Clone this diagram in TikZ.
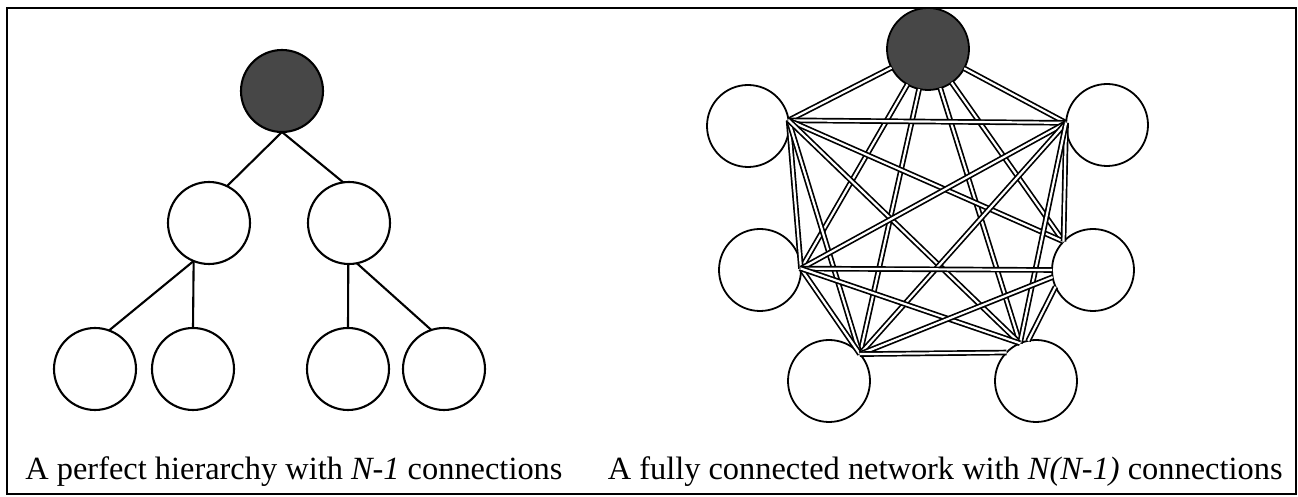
\documentclass[tikz,border=0pt]{standalone}
\usepackage{fontspec}
\setmainfont{Liberation Serif}
\usetikzlibrary{positioning}

\begin{document}
\begin{tikzpicture}[
	x={(0.5pt,0pt)},
	y={(0pt,-0.5pt)},
	font=\fontsize{16.2}{19}\selectfont,
	member/.style={draw, circle, fill=white, line width=1.05pt, minimum size=41pt, inner sep=0pt, outer sep=0pt},
	leader/.style={member, fill=black!72},
	netmember/.style={member, line width=0.9pt},
	netleader/.style={netmember, fill=black!72},
	tie/.style={line width=1.05pt},
	link/.style={draw=black, line width=0.85pt, double=white, double distance=1.1pt},
	caption/.style={inner sep=0pt}
	]
	
	\useasboundingbox (0,0) rectangle (1298,497);
	
	% --------------------------------------------------
	% Frame
	% --------------------------------------------------
	\draw[line width=1.2pt] (7,8) rectangle (1296,494);
	
	% ==================================================
	% Left: perfect hierarchy
	% ==================================================
	\node[leader] (root) at (282,91) {};
	
	\node[member] (c1) at (209,223) {};
	\node[member] (c2) at (349,223) {};
	
	\node[member] (l1) at (95,369) {};
	\node[member] (l2) at (193,369) {};
	\node[member] (l3) at (348,369) {};
	\node[member] (l4) at (444,369) {};
	
	\draw[tie] (root.south) -- (c1.64);
	\draw[tie] (root.south) -- (c2.98);
	\draw[tie] (c1.248) -- (l1.70);
	\draw[tie] (c1.248) -- (l2.90);
	\draw[tie] (c2.269) -- (l3.90);
	\draw[tie] (c2.281) -- (l4.108);
	
	\node[caption, anchor=base west] (capL) at (25,480)
	{A perfect hierarchy with \textit{N-1} connections};
	
	% ==================================================
	% Right: fully connected network
	% ==================================================
	\node[netleader] (T)  at (928,49) {};
	\node[netmember] (UL) at (748,126) {};
	\node[netmember] (UR) at (1107,125) {};
	\node[netmember] (ML) at (760,270) {};
	\node[netmember] (MR) at (1093,270) {};
	\node[netmember] (BL) at (829,381) {};
	\node[netmember] (BR) at (1036,381) {};
	
	% contact points where the links meet
	\coordinate (ULh) at (UL.8);
	\coordinate (URh) at (UR.177);
	\coordinate (MLh) at (ML.2);
	\coordinate (MRa) at (MR.136);
	\coordinate (MRb) at (MR.180);
	\coordinate (MRc) at (MR.190);
	\coordinate (MRd) at (MR.204);
	\coordinate (BLh) at (BL.41);
	\coordinate (BRa) at (BR.113);
	\coordinate (BRb) at (BR.136);
	\coordinate (BRc) at (BR.101);
	
	\foreach \a/\b in {T/ULh, T/URh, T/MLh, T/MRa, T/BLh, T/BRa,
		ULh/URh, ULh/MLh, ULh/MRa, ULh/BLh, ULh/BRa,
		URh/MLh, URh/MRa, URh/BLh, URh/BRa,
		MLh/MRb, MLh/BLh, MLh/BRa,
		MRc/BLh, MRd/BRc, BLh/BRb}
	\draw[link] (\a) -- (\b);
	
	\node[caption, anchor=base east] (capR) at (1283,480)
	{A fully connected network with \textit{N(N-1)} connections};
	
\end{tikzpicture}
\end{document}
